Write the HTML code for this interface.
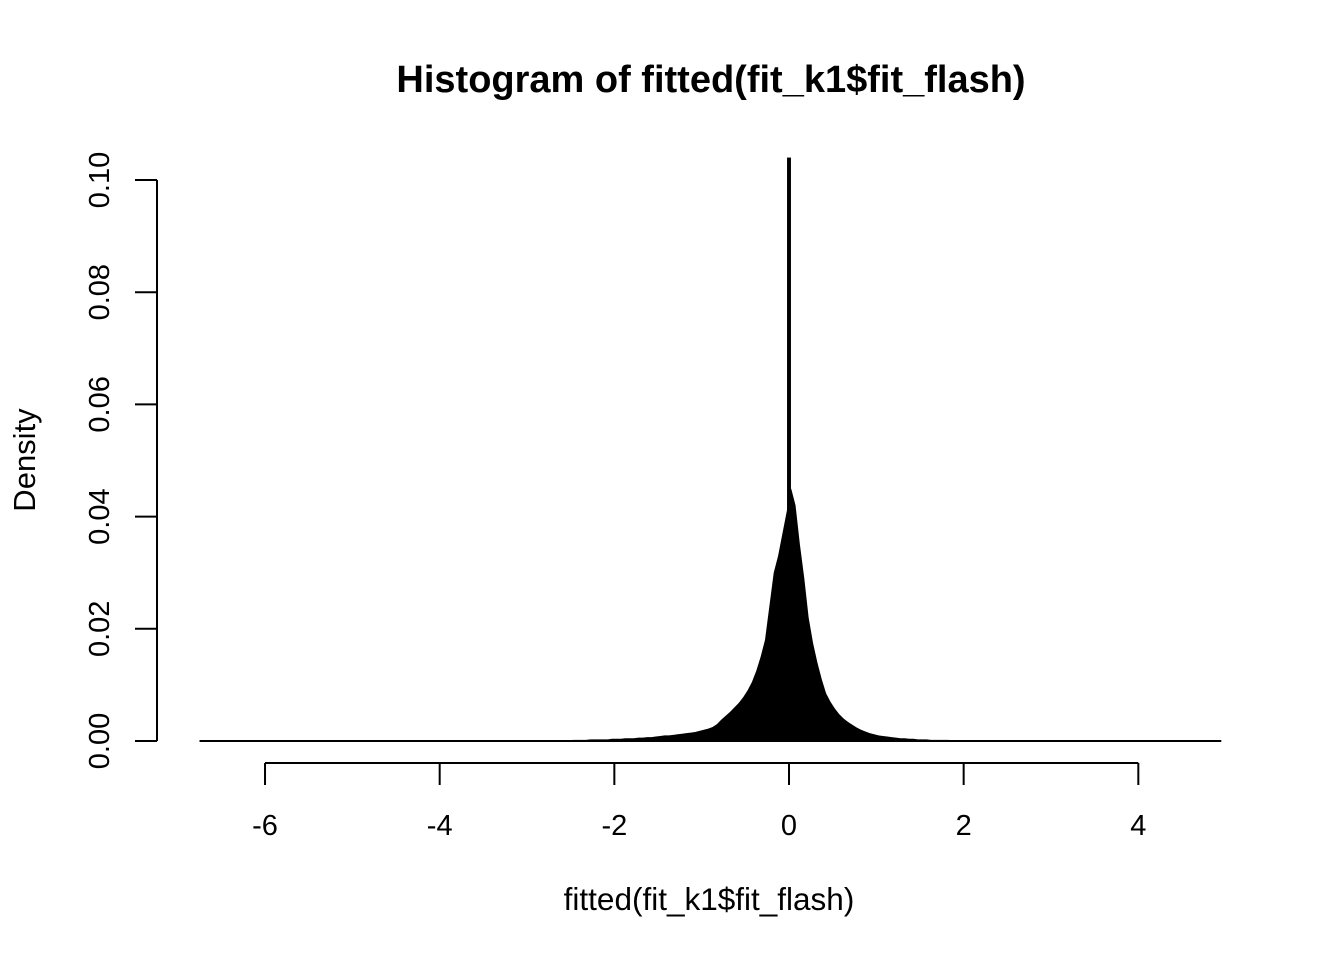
<!DOCTYPE html>
<html><head><meta charset="utf-8"><style>
html,body{margin:0;padding:0;background:#fff;}
svg{display:block;font-family:"Liberation Sans",Arial,sans-serif;}
</style></head><body>
<svg id="chart" width="1344" height="960" viewBox="0 0 1344 960">
<text x="711" y="92" text-anchor="middle" font-size="38" font-weight="bold">Histogram of fitted(fit_k1$fit_flash)</text>
<text x="709" y="910" text-anchor="middle" font-size="31.5">fitted(fit_k1$fit_flash)</text>
<text transform="translate(35,460) rotate(-90)" text-anchor="middle" font-size="31">Density</text>
<g id="bars"></g>
<g id="xaxis"></g>
<g id="yaxis"></g>
</svg>
<script>
const binStart = -2.5;
const binWidth = 0.05;
const densities = [
0.0002,0.0002,0.0002,0.0002,0.0003,0.0003,0.0003,0.0003,0.0003,0.0004,
0.0004,0.0004,0.0005,0.0005,0.0005,0.0006,0.0006,0.0007,0.0007,0.0008,
0.0009,0.001,0.001,0.0011,0.0012,0.0013,0.0014,0.0015,0.0016,0.0018,
0.002,0.0022,0.0025,0.003,0.0038,0.0045,0.0052,0.006,0.0068,0.0078,
0.009,0.0105,0.0125,0.015,0.018,0.024,0.030,0.033,0.037,0.041,
0.045,0.042,0.035,0.029,0.022,0.0175,0.014,0.011,0.0085,0.007,
0.0058,0.0048,0.004,0.0034,0.0029,0.0024,0.002,0.0017,0.0014,0.0012,
0.001,0.0009,0.0008,0.0007,0.0006,0.0005,0.0005,0.0004,0.0004,0.0003,
0.0003,0.0003,0.0002,0.0002,0.0002,0.0002,0.0002,0.0001,0.0001,0.0001,
0.0001,0.0001,0.0001,0.0001,0.0001,0.0001,0.0001,0.0001,0.0001,0.0001
];
const spikeCenters = [0];
const spikeValues = [0.104];
const spikeWidth = 0.045;
const dataRange = [-6.75, 4.95];
const xTicks = [-6,-4,-2,0,2,4];
const xTickLabels = ["-6","-4","-2","0","2","4"];
const yTicks = [0,0.02,0.04,0.06,0.08,0.10];
const yTickLabels = ["0.00","0.02","0.04","0.06","0.08","0.10"];

const NS = "http://www.w3.org/2000/svg";
function xs(v){ return 789 + v*87.33; }
function ys(v){ return 741 - v*5610; }
function mk(tag, attrs, parent){
  const e = document.createElementNS(NS, tag);
  for (const k in attrs) e.setAttribute(k, attrs[k]);
  parent.appendChild(e); return e;
}
const bars = document.getElementById('bars');
let pts = [[xs(binStart), ys(0)]];
densities.forEach((d,i)=>{
  pts.push([xs(binStart + (i+0.5)*binWidth), ys(d)]);
});
pts.push([xs(binStart + densities.length*binWidth), ys(0)]);
const poly = mk('polygon',{points:pts.map(p=>p.join(',')).join(' '),fill:'#000'},bars);


spikeCenters.forEach((c,i)=>{
  const x0 = xs(c - spikeWidth/2), x1 = xs(c + spikeWidth/2);
  const r = mk('rect',{x:x0,y:ys(spikeValues[i]),width:x1-x0,height:ys(0)-ys(spikeValues[i]),fill:'#000'},bars);
  
  
});
const base = mk('line',{x1:xs(dataRange[0]),x2:xs(dataRange[1]),y1:ys(0),y2:ys(0),stroke:'#000','stroke-width':2},bars);



const xa = document.getElementById('xaxis');
mk('line',{x1:xs(xTicks[0]),x2:xs(xTicks[xTicks.length-1]),y1:763,y2:763,stroke:'#000','stroke-width':2},xa);
xTicks.forEach((t,i)=>{
  mk('line',{x1:xs(t),x2:xs(t),y1:763,y2:785,stroke:'#000','stroke-width':2},xa);
  const tx = mk('text',{x:xs(t),y:835,'text-anchor':'middle','font-size':29},xa);
  tx.textContent = xTickLabels[i];
  
  
});
const ya = document.getElementById('yaxis');
mk('line',{x1:157,x2:157,y1:ys(yTicks[0]),y2:ys(yTicks[yTicks.length-1]),stroke:'#000','stroke-width':2},ya);
yTicks.forEach((t,i)=>{
  mk('line',{x1:135,x2:157,y1:ys(t),y2:ys(t),stroke:'#000','stroke-width':2},ya);
  const tx = mk('text',{transform:`translate(109,${ys(t)}) rotate(-90)`,'text-anchor':'middle','font-size':29},ya);
  tx.textContent = yTickLabels[i];
  
  
});
</script>
</body></html>
